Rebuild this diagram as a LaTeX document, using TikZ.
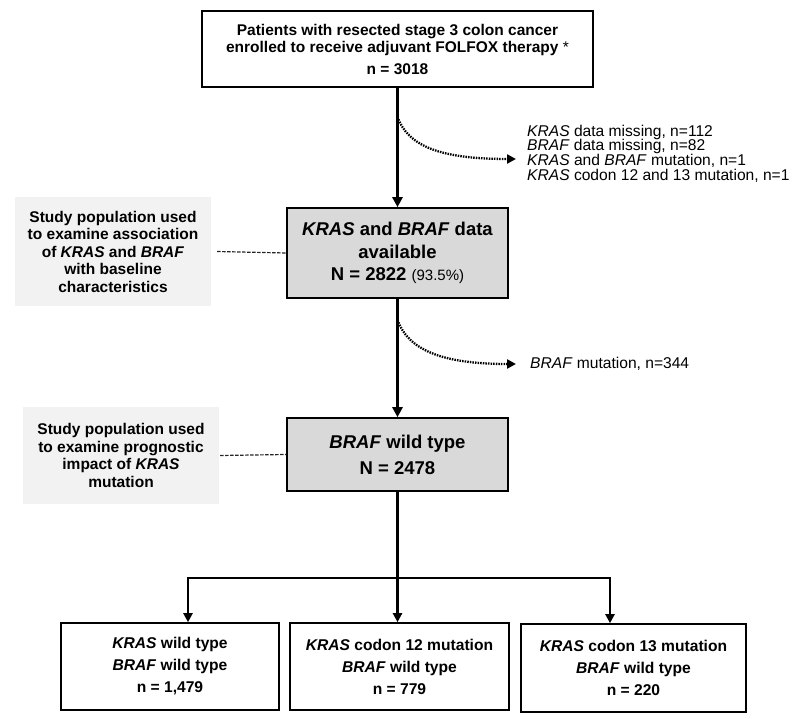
\documentclass[tikz,border=0pt]{standalone}
\usepackage{fontspec}
\setmainfont{Liberation Sans}
\usetikzlibrary{arrows.meta}
\definecolor{midgray}{RGB}{217,217,217}
\definecolor{sidegray}{RGB}{242,242,242}
\begin{document}
\begin{tikzpicture}[x=1pt,y=-1pt,
  box/.style={draw,line width=1.6pt,align=center,inner sep=0pt},
  sidebox/.style={fill=sidegray,align=center,inner sep=0pt,
    font=\fontsize{15.5}{17.5}\selectfont\bfseries},
  flow/.style={line width=2.6pt},
  flowarrow/.style={line width=2.6pt,-{Triangle[length=10pt,width=10pt]}},
  thinarrow/.style={line width=2.2pt,-{Triangle[length=9pt,width=9pt]}},
  dotarrow/.style={line width=2.3pt,dash pattern=on 1.5pt off 1.1pt,
    -{Triangle[length=9pt,width=9pt]}},
  link/.style={line width=1.2pt,dash pattern=on 3.5pt off 1.5pt,black!85},
  note/.style={anchor=west,align=left,inner sep=0pt,
    font=\fontsize{15.6}{14.7}\selectfont}
]
\useasboundingbox (0,0) rectangle (800,719);

% top box
\node[box,minimum width=391pt,minimum height=76pt,
  font=\fontsize{15.5}{17}\selectfont\bfseries] (top) at (397.5,49)
  {Patients with resected stage 3 colon cancer\\
   enrolled to receive adjuvant FOLFOX therapy {\mdseries *}\\[5pt]
   n = 3018};

% KRAS and BRAF available
\node[box,fill=midgray,minimum width=221pt,minimum height=90pt,
  font=\fontsize{18.5}{22.5}\selectfont\bfseries] (avail) at (397.5,253)
  {\textit{KRAS} and \textit{BRAF} data\\available\\
   N = 2822 {\mdseries\fontsize{15}{17}\selectfont (93.5\%)}};

% BRAF wild type
\node[box,fill=midgray,minimum width=221pt,minimum height=73pt,
  font=\fontsize{18.5}{26}\selectfont\bfseries] (wt) at (397.5,454.5)
  {\textit{BRAF} wild type\\N = 2478};

% side boxes
\node[sidebox,minimum width=196pt,minimum height=109pt] (side1) at (113,251.5)
  {Study population used\\to examine association\\
   of \textit{KRAS} and \textit{BRAF}\\with baseline\\characteristics};
\node[sidebox,minimum width=196pt,minimum height=97pt] (side2) at (121,455.5)
  {Study population used\\to examine prognostic\\
   impact of \textit{KRAS}\\mutation};

% bottom boxes
\node[box,minimum width=218pt,minimum height=87pt,
  font=\fontsize{15.6}{22}\selectfont\bfseries] (b1) at (170,666.5)
  {\textit{KRAS} wild type\\\textit{BRAF} wild type\\n = 1,479};
\node[box,minimum width=219pt,minimum height=87pt,
  font=\fontsize{15.6}{22}\selectfont\bfseries] (b2) at (399.5,666.5)
  {\textit{KRAS} codon 12 mutation\\\textit{BRAF} wild type\\n = 779};
\node[box,minimum width=225pt,minimum height=88pt,
  font=\fontsize{15.6}{22}\selectfont\bfseries] (b3) at (633.5,668)
  {\textit{KRAS} codon 13 mutation\\\textit{BRAF} wild type\\n = 220};

% exclusion notes
\node[note] (ex1) at (527,153.5)
  {\textit{KRAS} data missing, n=112\\
   \textit{BRAF} data missing, n=82\\
   \textit{KRAS} and \textit{BRAF} mutation, n=1\\
   \textit{KRAS} codon 12 and 13 mutation, n=1};
\node[note] (ex2) at (530,364) {\textit{BRAF} mutation, n=344};

% coordinates
\coordinate (d1) at (397.5,117);
\coordinate (t1) at (516,159);
\coordinate (d2) at (397.5,320);
\coordinate (t2) at (516,364);
\coordinate (j)  at (397.5,578);
\coordinate (jl) at (188,578);
\coordinate (jr) at (610,578);

% main flow
\draw[flowarrow] (top.south) -- (avail.north);
\draw[flowarrow] (avail.south) -- (wt.north);
\draw[flow] (wt.south) -- (j);
\draw[flow] ([xshift=-1.3pt]jl) -- ([xshift=1.3pt]jr);
\draw[thinarrow] ([yshift=-1.3pt]jl) -- (jl |- b1.north);
\draw[thinarrow] ([yshift=-1.3pt]j) -- (j |- b2.north);
\draw[thinarrow] ([yshift=-1.3pt]jr) -- (jr |- b3.north);

% dotted exclusions
\draw[dotarrow] (d1) .. controls (408,146) and (440,159) .. (t1);
\draw[dotarrow] (d2) .. controls (408,349) and (440,364) .. (t2);

% dashed links
\draw[link] (side1.east) ++(6,0) -- (avail.west);
\draw[link] (side2.east) ++(1,0) -- (wt.west);
\end{tikzpicture}
\end{document}
